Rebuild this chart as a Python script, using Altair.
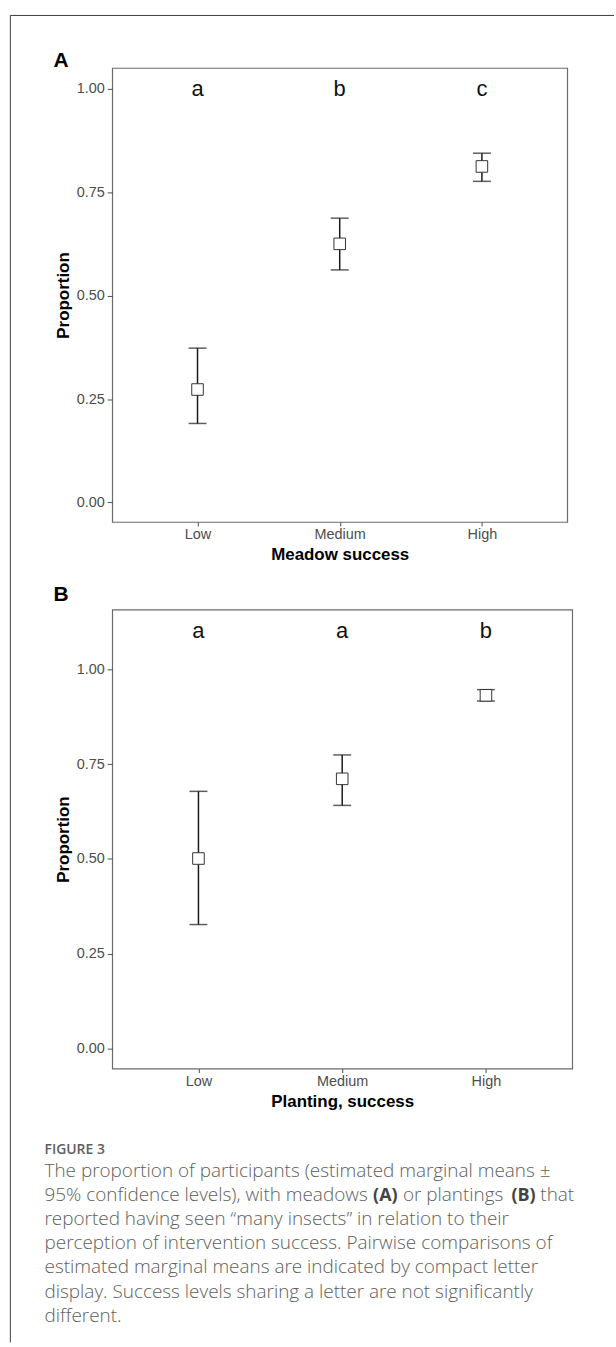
import altair as alt
import pandas as pd

# ---------------- data ----------------
levels = ["Low", "Medium", "High"]

a_mean = [0.273, 0.625, 0.812]
a_lo = [0.191, 0.562, 0.776]
a_hi = [0.373, 0.687, 0.844]
a_letters = ["a", "b", "c"]
a_letter_y = 1.0

b_mean = [0.501, 0.711, 0.931]
b_lo = [0.327, 0.641, 0.916]
b_hi = [0.678, 0.774, 0.946]
b_letters = ["a", "a", "b"]
b_letter_y = 1.1

y_ticks = [0, 0.25, 0.5, 0.75, 1.0]

caption_head = "FIGURE 3"
caption_line1 = "The proportion of participants (estimated marginal means ±"
caption_line2 = ["95% confidence levels), with meadows", "(A)", "or plantings", "(B)", "that"]
caption_rest = [
    "reported having seen “many insects” in relation to their",
    "perception of intervention success. Pairwise comparisons of",
    "estimated marginal means are indicated by compact letter",
    "display. Success levels sharing a letter are not significantly",
    "different.",
]

AX_FONT = "Liberation Sans"
CAP_FONT = "Open Sans"
CAP_COLOR = "#5e5e5e"
CAP_SIZE = 19


def make_df(mean, lo, hi, letters, ly):
    return pd.DataFrame({
        "level": levels, "mean": mean, "lo": lo, "hi": hi,
        "letter": letters, "ly": [ly] * len(levels),
    })


one = pd.DataFrame({"k": [0]})


def panel(df, xtitle, ydomain, w, h, tag, tag_y, xtitle_y):
    xs = alt.X("level:N", sort=levels,
               scale=alt.Scale(type="point", padding=0.6),
               axis=alt.Axis(title=xtitle, labelAngle=0, domain=False,
                             ticks=True, tickSize=4, tickColor="#4d4d4d",
                             labelFont=AX_FONT, labelFontSize=14.5, labelColor="#4d4d4d",
                             labelPadding=2, titleFont=AX_FONT, titleFontSize=17,
                             titleFontWeight="bold", titleColor="#000000",
                             titleY=xtitle_y, titleBaseline="middle", grid=False))
    sc = alt.Scale(domain=ydomain, nice=False, zero=False)
    ax = alt.Axis(values=y_ticks, format=".2f", title="Proportion", domain=False,
                  ticks=True, tickSize=5, tickColor="#4d4d4d", grid=False,
                  labelFont=AX_FONT, labelFontSize=14.5, labelColor="#4d4d4d",
                  labelPadding=3, titleFont=AX_FONT, titleFontSize=17,
                  titleFontWeight="bold", titleColor="#000000",
                  titleX=-49, titleY=h / 2, titleBaseline="middle")

    def Y(f):
        return alt.Y(f, scale=sc, axis=ax, title="Proportion")

    base = alt.Chart(df).encode(x=xs)
    bars = base.mark_rule(color="#1a1a1a", strokeWidth=1.5).encode(y=Y("lo:Q"), y2="hi:Q")
    cap_lo = base.mark_tick(color="#1a1a1a", thickness=1.5, size=18, orient="horizontal").encode(y=Y("lo:Q"))
    cap_hi = base.mark_tick(color="#1a1a1a", thickness=1.5, size=18, orient="horizontal").encode(y=Y("hi:Q"))
    pts = base.mark_point(shape="square", size=135, filled=True, fill="white",
                          stroke="#333333", strokeWidth=1, opacity=1).encode(y=Y("mean:Q"))
    lets = base.mark_text(font=AX_FONT, fontSize=22, color="#111111",
                          baseline="middle").encode(y=Y("ly:Q"), text="letter:N")
    tagm = alt.Chart(one).mark_text(font=AX_FONT, fontSize=21, fontWeight="bold",
                                    color="#000000", align="left", baseline="middle").encode(
        x=alt.value(-59), y=alt.value(tag_y), text=alt.value(tag))
    return alt.layer(bars, cap_lo, cap_hi, pts, lets, tagm).properties(width=w, height=h)


dfa = make_df(a_mean, a_lo, a_hi, a_letters, a_letter_y)
dfb = make_df(b_mean, b_lo, b_hi, b_letters, b_letter_y)

pa = panel(dfa, "Meadow success", [-0.047, 1.05], 457, 456, "A", -7, 32.5)
pb = panel(dfb, "Planting, success", [-0.0525, 1.157], 462, 461, "B", -15, 33)

# outer frame (decoration, drawn in panel A coordinates)
frame_top = alt.Chart(one).mark_rule(color="#404040", strokeWidth=1).encode(
    x=alt.value(-102.3), x2=alt.value(504), y=alt.value(-52.7))
frame_left = alt.Chart(one).mark_rule(color="#404040", strokeWidth=1).encode(
    x=alt.value(-102.3), y=alt.value(-52.7), y2=alt.value(1280))
pa = alt.layer(pa, frame_top, frame_left)

# caption (drawn in panel B coordinates)
cx = -68
head = alt.Chart(one).mark_text(font=CAP_FONT, fontSize=14, fontWeight=600, color=CAP_COLOR,
                                align="left", baseline="middle").encode(
    x=alt.value(cx), y=alt.value(543), text=alt.value(caption_head))
l1 = alt.Chart(one).mark_text(font=CAP_FONT, fontSize=CAP_SIZE, fontWeight=300, color=CAP_COLOR,
                              align="left", baseline="alphabetic").encode(
    x=alt.value(cx), y=alt.value(570), text=alt.value(caption_line1))
seg_x = [cx, 374 - 112, 404 - 112, 513 - 112, 542 - 112]
seg_w = [300, 700, 300, 700, 300]
segs = []
for s, sx, sw in zip(caption_line2, seg_x, seg_w):
    segs.append(alt.Chart(one).mark_text(font=CAP_FONT, fontSize=CAP_SIZE if sw == 300 else 18,
                                         fontWeight=sw,
                                         color=CAP_COLOR if sw == 300 else "#444444",
                                         align="left", baseline="alphabetic").encode(
        x=alt.value(sx), y=alt.value(594.2), text=alt.value(s)))
rest = alt.Chart(one).mark_text(font=CAP_FONT, fontSize=CAP_SIZE, fontWeight=300, color=CAP_COLOR,
                                align="left", baseline="alphabetic", lineHeight=24.2,
                                text=caption_rest).encode(
    x=alt.value(cx), y=alt.value(594.2 + 24.2))
pb = alt.layer(pb, head, l1, *segs, rest)

chart = alt.vconcat(pa, pb, spacing=88, bounds="flush").properties(
    padding={"left": 8.7, "top": 11.3, "right": 0, "bottom": 0},
    background="white",
).configure_view(stroke="#6b6b6b", strokeWidth=1.2)

chart.save("out.html", embed_options={"renderer": "svg", "actions": False})
